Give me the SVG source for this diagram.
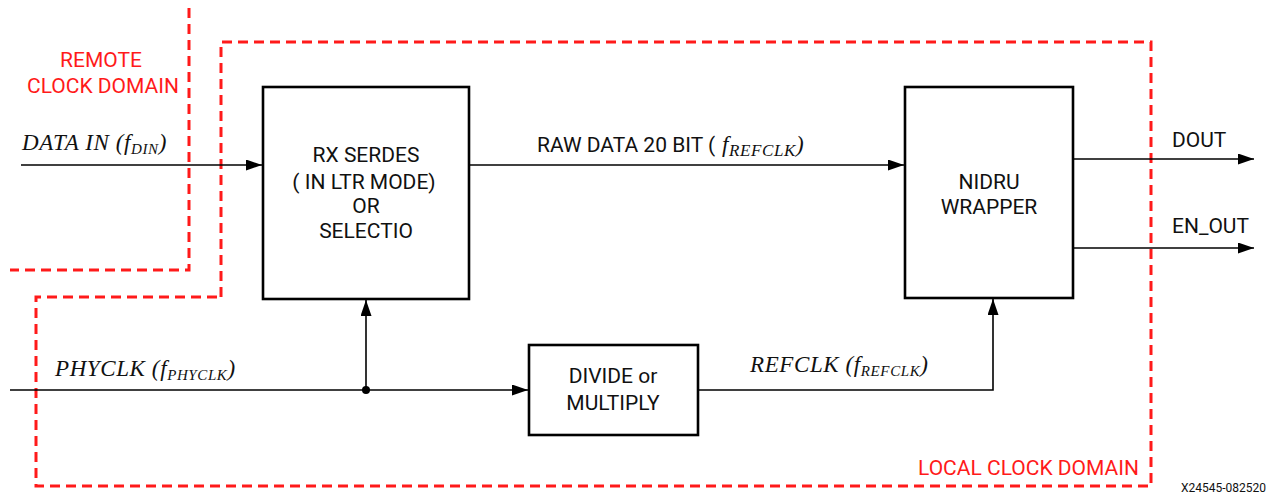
<svg xmlns="http://www.w3.org/2000/svg" width="1268" height="494" viewBox="0 0 1268 494">
  <style>
    .box { fill: #fff; stroke: #000; stroke-width: 2.6; }
    .lbl { font-family: Roboto, "Liberation Sans", sans-serif; font-size: 21px; fill: #111; }
    .mid { text-anchor: middle; }
    .red { font-family: Roboto, "Liberation Sans", sans-serif; font-size: 21px; fill: #ff1a1a; }
    .math { font-family: "Liberation Serif", "DejaVu Serif", serif; font-style: italic; font-size: 23px; fill: #111; letter-spacing: 0.6px; }
    .sub { font-size: 15px; }
    .wire { fill: none; stroke: #000; stroke-width: 1.6; }
    .domain { fill: none; stroke: #ff1a1a; stroke-width: 3; stroke-dasharray: 10 6; }
  </style>
  <defs>
    <marker id="arrow" markerUnits="userSpaceOnUse" markerWidth="17" markerHeight="12" refX="16" refY="5.5" orient="auto">
      <path d="M0,0 L16,5.5 L0,11 Z" fill="#000"/>
    </marker>
  </defs>
  <rect width="1268" height="494" fill="#fff"/>

  <!-- clock domain boundaries -->
  <g id="domains">
    <path class="domain" d="M189,8 V270 H10"/>
    <path class="domain" d="M221,297 V42 H1151 V486 H36 V297 Z"/>
    <text class="red mid" x="101" y="67">REMOTE</text>
    <text class="red mid" x="103" y="93">CLOCK DOMAIN</text>
    <text class="red" x="918" y="475">LOCAL CLOCK DOMAIN</text>
  </g>

  <!-- connectors -->
  <g id="connectors">
    <line class="wire" x1="21" y1="165" x2="262" y2="165" marker-end="url(#arrow)"/>
    <line class="wire" x1="469" y1="165" x2="904" y2="165" marker-end="url(#arrow)"/>
    <line class="wire" x1="1073" y1="159" x2="1254" y2="159" marker-end="url(#arrow)"/>
    <line class="wire" x1="1073" y1="248" x2="1254" y2="248" marker-end="url(#arrow)"/>
    <line class="wire" x1="10" y1="390" x2="528" y2="390" marker-end="url(#arrow)"/>
    <line class="wire" x1="366" y1="390" x2="366" y2="300" marker-end="url(#arrow)"/>
    <polyline class="wire" points="698,390 993,390 993,299" marker-end="url(#arrow)"/>
    <circle cx="366" cy="390" r="4" fill="#000"/>

    <text class="math" x="22" y="150" letter-spacing="1.2">DATA IN (<tspan>f</tspan><tspan class="sub" dy="4">DIN</tspan><tspan dy="-4">)</tspan></text>
    <text class="lbl" x="537" y="152" font-size="21.5">RAW DATA 20 BIT (</text>
    <text class="math" x="722" y="152" font-size="25" letter-spacing="0.8">f<tspan font-size="17" dy="4">REFCLK</tspan><tspan dy="-4">)</tspan></text>
    <text class="math" x="55" y="376">PHYCLK (<tspan>f</tspan><tspan class="sub" dy="4">PHYCLK</tspan><tspan dy="-4">)</tspan></text>
    <text class="math" x="750" y="372">REFCLK (<tspan>f</tspan><tspan class="sub" dy="4">REFCLK</tspan><tspan dy="-4">)</tspan></text>
    <text class="lbl" x="1172" y="147">DOUT</text>
    <text class="lbl" x="1172" y="233">EN_OUT</text>
  </g>

  <g id="rx-serdes">
    <rect class="box" x="263" y="87" width="206" height="212"/>
    <text class="lbl mid" x="366" y="162">RX SERDES</text>
    <text class="lbl mid" x="364" y="189">( IN LTR MODE)</text>
    <text class="lbl mid" x="366" y="213">OR</text>
    <text class="lbl mid" x="366" y="238">SELECTIO</text>
  </g>

  <g id="nidru-wrapper">
    <rect class="box" x="905" y="87" width="168" height="211"/>
    <text class="lbl mid" x="989" y="189">NIDRU</text>
    <text class="lbl mid" x="989" y="214">WRAPPER</text>
  </g>

  <g id="divide-multiply">
    <rect class="box" x="529" y="345" width="169" height="90"/>
    <text class="lbl mid" x="613" y="383">DIVIDE or</text>
    <text class="lbl mid" x="613" y="410">MULTIPLY</text>
  </g>

  <text x="1266" y="492" text-anchor="end" font-family="Roboto, 'Liberation Sans', sans-serif" font-size="12" fill="#111">X24545-082520</text>
</svg>
